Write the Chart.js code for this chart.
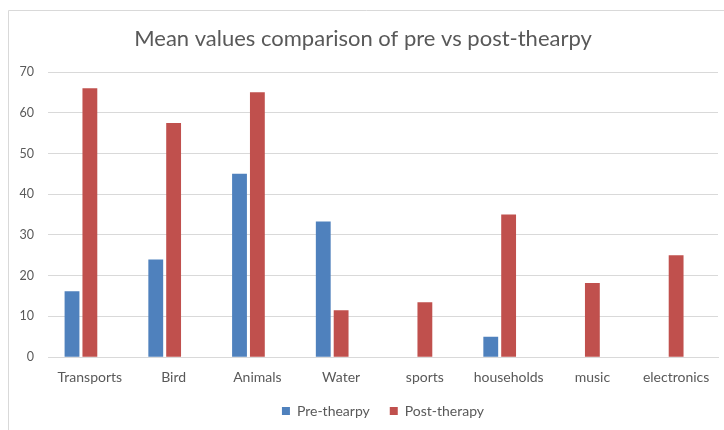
<!DOCTYPE html>
<html>
<head>
<meta charset="utf-8">
<script src="https://cdn.jsdelivr.net/npm/chart.js@4"></script>
<style>
  html, body { margin: 0; padding: 0; background: #fff; overflow: hidden; }
  #wrap { width: 724px; height: 430px; position: relative; }
</style>
</head>
<body>
<div id="wrap"><canvas id="chart"></canvas></div>
<script>
// Categories and series
const categories = ['Transports', 'Bird', 'Animals', 'Water', 'sports', 'households', 'music', 'electronics'];
const preValues = [16.2, 24, 45, 33.3, null, 5, null, null];
const postValues = [66, 57.5, 65, 11.5, 13.5, 35, 18.2, 25];
// Excel sheet had a third (empty) series that still takes a slot in each group
const emptyValues = [null, null, null, null, null, null, null, null];
const yTicks = [0, 10, 20, 30, 40, 50, 60, 70];

const textColor = '#595959';
const gridColor = '#D9D9D9';

// Thin frame around the chart, as in the original export
const framePlugin = {
  id: 'frame',
  beforeDraw(chart) {
    const ctx = chart.ctx;
    ctx.save();
    ctx.strokeStyle = gridColor;
    ctx.lineWidth = 1;
    ctx.beginPath();
    ctx.moveTo(8.5, chart.height + 5);
    ctx.lineTo(8.5, 10.5);
    ctx.lineTo(chart.width + 5, 10.5);
    ctx.stroke();
    ctx.restore();
  }
};

new Chart(document.getElementById('chart'), {
  type: 'bar',
  data: {
    labels: categories,
    datasets: [
      { label: 'Pre-thearpy', data: preValues, backgroundColor: '#4F81BD' },
      { label: 'Post-therapy', data: postValues, backgroundColor: '#C0504D' },
      { label: '', data: emptyValues, backgroundColor: 'rgba(0,0,0,0)' }
    ]
  },
  options: {
    responsive: true,
    maintainAspectRatio: false,
    animation: false,
    categoryPercentage: 0.64,
    barPercentage: 0.83,
    layout: { padding: { left: 8, right: 6, top: 0, bottom: 2 } },
    plugins: {
      title: {
        display: true,
        text: 'Mean values comparison of pre vs post-thearpy',
        color: textColor,
        font: { family: 'Lato', size: 22, weight: 'normal', lineHeight: 1.2 },
        padding: { top: 26, bottom: 19.6 }
      },
      legend: {
        position: 'bottom',
        fullSize: false,
        labels: {
          color: textColor,
          font: { family: 'Lato', size: 14 },
          boxWidth: 8,
          boxHeight: 8,
          padding: 6,
          filter: item => item.text !== '',
          // widen the gap after the first entry, like Excel's legend spacing
          generateLabels: chart => {
            const items = Chart.defaults.plugins.legend.labels.generateLabels(chart);
            items[0].text += '\u00A0\u00A0\u00A0\u00A0';
            return items;
          }
        }
      },
      tooltip: { enabled: false }
    },
    scales: {
      x: {
        grid: { display: false, drawTicks: false },
        border: { display: true, color: gridColor },
        ticks: {
          color: textColor,
          font: { family: 'Lato', size: 14 },
          padding: 12,
          maxRotation: 0,
          autoSkip: false
        }
      },
      y: {
        min: yTicks[0],
        max: yTicks[yTicks.length - 1],
        afterBuildTicks: scale => { scale.ticks = yTicks.map(v => ({ value: v })); },
        afterFit: scale => { scale.width = 40; },
        grid: { color: gridColor, drawTicks: false },
        border: { display: false },
        ticks: {
          color: textColor,
          font: { family: 'Lato', size: 12.5 },
          padding: 14
        }
      }
    }
  },
  plugins: [framePlugin]
});
</script>
</body>
</html>
